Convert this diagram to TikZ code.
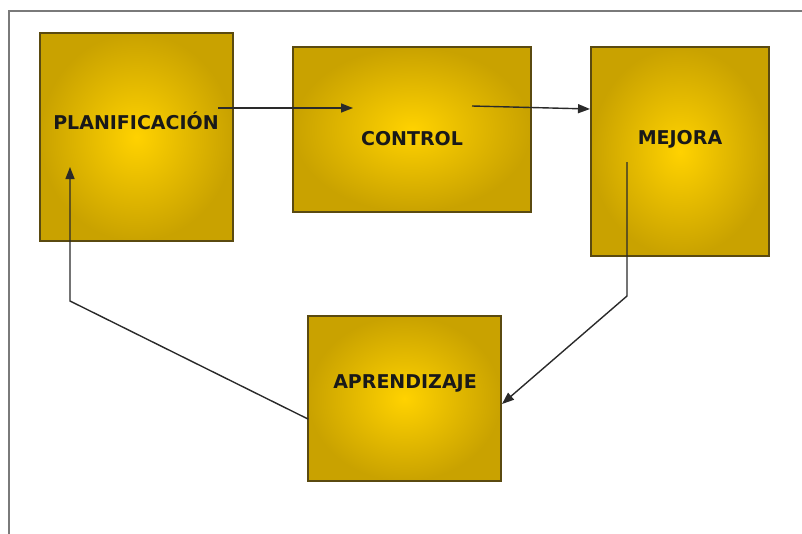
\documentclass[tikz,border=0pt]{standalone}
\usepackage{fontspec}
\setmainfont{DejaVu Sans}
\usetikzlibrary{arrows.meta}
\definecolor{boxedge}{HTML}{C9A200}
\definecolor{boxmid}{HTML}{FFD200}
\definecolor{boxline}{HTML}{5A4A10}
\definecolor{frameline}{HTML}{7A7A7A}
\definecolor{arrowline}{HTML}{2A2A2A}
\tikzset{
  box/.style={draw=boxline, line width=1.4pt, inner color=boxmid, outer color=boxedge, rectangle, inner sep=0pt},
  boxtext/.style={font=\bfseries\fontsize{19}{21}\selectfont, text=black!90, inner sep=0pt},
  conn/.style={draw=arrowline, line width=1.4pt, -{Triangle[length=12pt,width=9pt]}}
}
\begin{document}
\begin{tikzpicture}[x=1pt,y=-1pt]
\useasboundingbox (0,0) rectangle (802,533);
% frame
\draw[frameline, line width=2pt] (9,540) -- (9,11) -- (810,11);
% boxes
\node[box, minimum width=193pt, minimum height=208pt] (plan) at (136.5,137) {};
\node[box, minimum width=238pt, minimum height=165pt] (ctrl) at (412,129.5) {};
\node[box, minimum width=178pt, minimum height=209pt] (mej) at (680,151.5) {};
\node[box, minimum width=193pt, minimum height=165pt] (apr) at (404.5,398.5) {};
% texts
\node[boxtext] (plant) at (136,121) {PLANIFICACIÓN};
\node[boxtext] (ctrlt) at (412,139) {CONTROL};
\node[boxtext] (mejt) at (680,139) {MEJORA};
\node[boxtext] (aprt) at (405,383) {APRENDIZAJE};
% connector points
\coordinate (a1s) at (218,108);
\coordinate (a1e) at (353,108);
\coordinate (a2s) at (472,106);
\coordinate (a2e) at (590,109);
\coordinate (a3s) at (627,162);
\coordinate (a3m) at (627,296);
\coordinate (a3e) at (502,404);
\coordinate (a4s) at (308,419);
\coordinate (a4m) at (70,301);
\coordinate (a4e) at (70,167);
\draw[conn] (a1s) -- (a1e);
\draw[conn] (a2s) -- (a2e);
\draw[conn] (a3s) -- (a3m) -- (a3e);
\draw[conn] (a4s) -- (a4m) -- (a4e);
\end{tikzpicture}
\end{document}
